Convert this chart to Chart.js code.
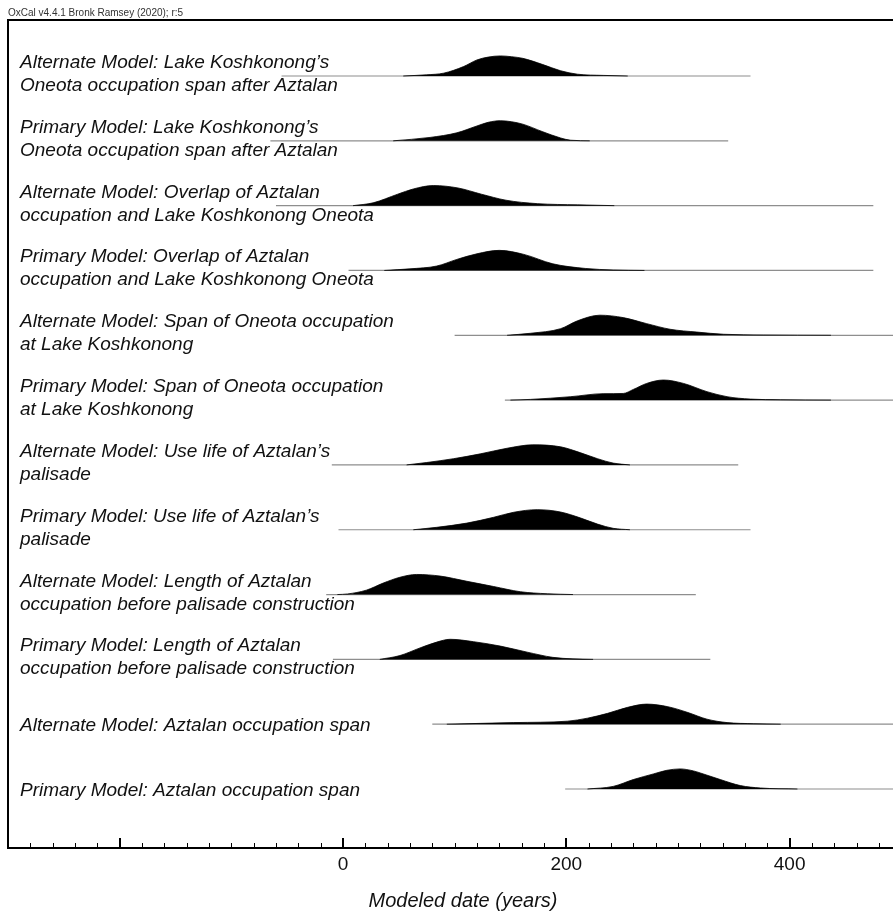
<!DOCTYPE html>
<html>
<head>
<meta charset="utf-8">
<script src="https://cdn.jsdelivr.net/npm/chart.js@4.4.1/dist/chart.umd.min.js"></script>
<style>
  html, body { margin: 0; padding: 0; background: #fff; overflow: hidden; }
  #wrap { width: 893px; height: 917px; overflow: hidden; }
  canvas { display: block; }
</style>
</head>
<body>
<div id="wrap"><canvas id="oxcal" width="918" height="917"></canvas></div>
<script>
// row labels, top to bottom
const rowLabels = [
  ['Alternate Model: Lake Koshkonong’s', 'Oneota occupation span after Aztalan'],
  ['Primary Model: Lake Koshkonong’s', 'Oneota occupation span after Aztalan'],
  ['Alternate Model: Overlap of Aztalan', 'occupation and Lake Koshkonong Oneota'],
  ['Primary Model: Overlap of Aztalan', 'occupation and Lake Koshkonong Oneota'],
  ['Alternate Model: Span of Oneota occupation', 'at Lake Koshkonong'],
  ['Primary Model: Span of Oneota occupation', 'at Lake Koshkonong'],
  ['Alternate Model: Use life of Aztalan’s', 'palisade'],
  ['Primary Model: Use life of Aztalan’s', 'palisade'],
  ['Alternate Model: Length of Aztalan', 'occupation before palisade construction'],
  ['Primary Model: Length of Aztalan', 'occupation before palisade construction'],
  ['Alternate Model: Aztalan occupation span'],
  ['Primary Model: Aztalan occupation span']
];
const rowPos = [11, 10, 9, 8, 7, 6, 5, 4, 3, 2, 1, 0];

// extent of each gray range line (years)
const lineStart = [-55, -65, -60, 5, 100, 145, -10, -4, -15, -9, 80, 199];
const lineEnd   = [365, 345, 475, 475, 515, 515, 354, 365, 316, 329, 515, 515];

// probability curves (relative to each peak)
const yrs1  = [54, 75, 90, 108, 120, 130, 141, 151, 161, 179, 195, 210, 233, 255];
const prob1 = [0, 0.06, 0.14, 0.47, 0.8, 0.94, 1, 0.96, 0.88, 0.57, 0.26, 0.09, 0.03, 0];
const yrs2  = [45, 78, 102, 120, 130, 141, 151, 161, 179, 195, 204, 221];
const prob2 = [0, 0.17, 0.4, 0.74, 0.92, 1, 0.95, 0.83, 0.45, 0.14, 0.03, 0];
const yrs3  = [9, 27, 49, 63, 81, 103, 124, 146, 174, 210, 243];
const prob3 = [0, 0.14, 0.57, 0.83, 1, 0.88, 0.57, 0.27, 0.1, 0.04, 0];
const yrs4  = [37, 60, 84, 102, 120, 140, 162, 188, 217, 242, 270];
const prob4 = [0, 0.08, 0.22, 0.55, 0.83, 1, 0.8, 0.33, 0.1, 0.025, 0];
const yrs5  = [147, 168, 195, 210, 230, 251, 272, 293, 317, 341, 377, 437];
const prob5 = [0, 0.1, 0.33, 0.72, 1, 0.88, 0.58, 0.3, 0.16, 0.05, 0.015, 0];
const yrs6  = [150, 168, 204, 233, 251, 260, 272, 287, 305, 326, 344, 365, 392, 437];
const prob6 = [0, 0.035, 0.17, 0.32, 0.33, 0.53, 0.83, 1, 0.83, 0.42, 0.17, 0.05, 0.015, 0];
const yrs7  = [57, 75, 99, 123, 147, 170, 195, 213, 228, 242, 257];
const prob7 = [0, 0.12, 0.31, 0.55, 0.83, 1, 0.9, 0.6, 0.31, 0.09, 0];
const yrs8  = [63, 84, 111, 135, 153, 174, 195, 213, 228, 242, 257];
const prob8 = [0, 0.12, 0.33, 0.62, 0.87, 1, 0.88, 0.58, 0.28, 0.07, 0];
const yrs9  = [-5, 4, 21, 36, 51, 66, 87, 111, 135, 159, 183, 206];
const prob9 = [0, 0.03, 0.22, 0.57, 0.86, 1, 0.92, 0.66, 0.4, 0.14, 0.04, 0];
const yrs10  = [33, 51, 69, 84, 96, 117, 141, 165, 188, 206, 224];
const prob10 = [0, 0.19, 0.57, 0.86, 1, 0.88, 0.66, 0.36, 0.1, 0.025, 0];
const yrs11  = [93, 153, 201, 219, 237, 255, 272, 291, 309, 326, 344, 368, 392];
const prob11 = [0, 0.08, 0.15, 0.3, 0.54, 0.84, 1, 0.87, 0.58, 0.25, 0.08, 0.025, 0];
const yrs12  = [219, 242, 260, 278, 290, 302, 314, 320, 338, 356, 374, 407];
const prob12 = [0, 0.13, 0.47, 0.75, 0.93, 1, 0.9, 0.8, 0.47, 0.17, 0.05, 0];

// axis ticks
const majorTicks = [-200, 0, 200, 400];
const labelledTicks = [0, 200, 400];
const minorStep = 20;

const yearsList = [yrs1, yrs2, yrs3, yrs4, yrs5, yrs6, yrs7, yrs8, yrs9, yrs10, yrs11, yrs12];
const probList = [prob1, prob2, prob3, prob4, prob5, prob6, prob7, prob8, prob9, prob10, prob11, prob12];

const peakHeight = 0.31;
const fontFam = "Arial, 'Liberation Sans', sans-serif";

let datasets = [];
for (let i = 0; i < rowPos.length; i++) {
  datasets.push({
    data: yearsList[i].map((x, k) => ({x: x, y: rowPos[i] + probList[i][k] * peakHeight})),
    fill: {value: rowPos[i]},
    backgroundColor: '#000',
    borderColor: '#000',
    borderWidth: 0.8,
    pointRadius: 0,
    cubicInterpolationMode: 'monotone'
  });
}
for (let i = 0; i < rowPos.length; i++) {
  datasets.push({
    data: [{x: lineStart[i], y: rowPos[i]}, {x: lineEnd[i], y: rowPos[i]}],
    fill: false,
    borderColor: '#8e8e8e',
    borderWidth: 1.2,
    pointRadius: 0
  });
}

let tickVals = [];
for (let v = -300 + minorStep; v < 515; v += minorStep) tickVals.push(v);

const decor = {
  id: 'decor',
  afterDatasetsDraw(chart) {
    const ctx = chart.ctx;
    const ys = chart.scales.y;
    ctx.save();
    ctx.font = 'italic 19px ' + fontFam;
    ctx.fillStyle = '#111';
    ctx.textBaseline = 'alphabetic';
    ctx.textAlign = 'left';
    rowLabels.forEach((lines, i) => {
      const py = ys.getPixelForValue(rowPos[i]);
      if (lines.length == 2) {
        ctx.fillText(lines[0], 20, py - 8);
        ctx.fillText(lines[1], 20, py + 15);
      } else {
        ctx.fillText(lines[0], 20, py + 7);
      }
    });
    ctx.restore();
  },
  afterDraw(chart) {
    const ctx = chart.ctx;
    const xs = chart.scales.x;
    const bottom = chart.chartArea.bottom;
    ctx.save();
    ctx.strokeStyle = '#000';
    xs.ticks.forEach(t => {
      const major = majorTicks.includes(t.value);
      const px = Math.round(xs.getPixelForValue(t.value));
      ctx.lineWidth = major ? 2 : 1;
      ctx.beginPath();
      ctx.moveTo(major ? px : px + 0.5, bottom);
      ctx.lineTo(major ? px : px + 0.5, bottom - (major ? 10 : 5));
      ctx.stroke();
    });
    ctx.restore();
  }
};

new Chart(document.getElementById('oxcal'), {
  type: 'line',
  data: {datasets: datasets},
  options: {
    responsive: false,
    animation: false,
    layout: {padding: {left: 8, right: 0, top: 0, bottom: 0}},
    plugins: {
      legend: {display: false},
      tooltip: {enabled: false},
      title: {
        display: true,
        text: 'OxCal v4.4.1 Bronk Ramsey (2020); r:5',
        align: 'start',
        color: '#333',
        font: {size: 10, family: fontFam, weight: 'normal'},
        padding: {top: 7, bottom: 1}
      }
    },
    scales: {
      x: {
        type: 'linear',
        position: 'bottom',
        min: -300,
        max: 515,
        afterBuildTicks: s => { s.ticks = tickVals.map(v => ({value: v})); },
        afterFit: s => { s.height = 69; },
        grid: {display: false, drawTicks: false},
        border: {display: true, color: '#000', width: 2},
        ticks: {
          autoSkip: false,
          maxRotation: 0,
          padding: 5,
          color: '#111',
          font: {size: 19, family: fontFam},
          callback: v => labelledTicks.includes(v) ? String(v) : ''
        },
        title: {
          display: true,
          text: 'Modeled date (years)',
          color: '#111',
          font: {size: 20, family: fontFam, style: 'italic'},
          padding: {top: 0, bottom: 4}
        }
      },
      xTop: {
        type: 'linear',
        position: 'top',
        min: -300,
        max: 515,
        afterFit: s => { s.height = 0; },
        grid: {display: false, drawTicks: false},
        border: {display: true, color: '#000', width: 2},
        ticks: {display: false}
      },
      y: {
        type: 'linear',
        min: -0.91,
        max: 11.864,
        afterFit: s => { s.width = 0; },
        grid: {display: false, drawTicks: false},
        border: {display: true, color: '#000', width: 2},
        ticks: {display: false}
      }
    }
  },
  plugins: [decor]
});
</script>
</body>
</html>
